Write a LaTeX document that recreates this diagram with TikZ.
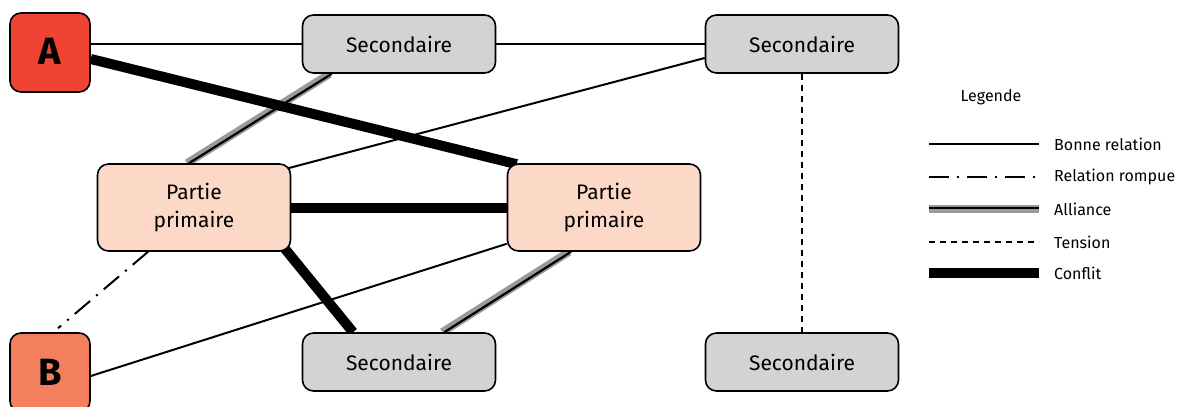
\documentclass[tikz,border=0pt]{standalone}
\usepackage{fontspec}
\setmainfont{Fira Sans}
\usetikzlibrary{calc}
\pgfdeclarelayer{background}
\pgfsetlayers{background,main}
\definecolor{partyA}{HTML}{EF4433}
\definecolor{partyB}{HTML}{F47F5F}
\definecolor{primfill}{HTML}{FCD8C6}
\definecolor{secfill}{HTML}{D1D3D4}
\definecolor{allygray}{HTML}{9A9A9A}
\tikzset{
  box/.style={draw=black, line width=1.6pt, rounded corners=11pt, inner sep=0pt, align=center,
    font=\fontsize{21}{28}\selectfont},
  partybox/.style={box, minimum width=80pt, minimum height=79pt, font=\fontsize{38}{38}\selectfont\bfseries},
  secbox/.style={box, fill=secfill, minimum width=193pt, minimum height=58pt},
  primbox/.style={box, fill=primfill, minimum width=193pt, minimum height=87pt},
  goodline/.style={line width=2pt},
  brokenline/.style={line width=2pt, dash pattern=on 20pt off 8pt on 2pt off 8pt},
  tensionline/.style={line width=2pt, dash pattern=on 6pt off 5pt},
  conflictline/.style={line width=10pt},
  allygrey/.style={line width=8pt, allygray},
  allyline/.style={line width=2.2pt},
  legtext/.style={anchor=west, font=\fontsize{16}{18}\selectfont, inner sep=0pt},
}
\newcommand{\allyedge}[2]{%
  \draw[allygrey] ($#1+(-2,0)$) -- ($#2+(-2,0)$);
  \draw[allyline] #1 -- #2;}
\begin{document}
\begin{tikzpicture}[x=1pt, y=-1pt]
\useasboundingbox (0,0) rectangle (1184,407);

% parties
\node[partybox, fill=partyA] (A) at (50,52.5) {\raisebox{2pt}{A}};
\node[partybox, fill=partyB] (B) at (50,372.5) {B};
\node[secbox] (secTL) at (399,44) {Secondaire};
\node[secbox] (secTR) at (802,44) {Secondaire};
\node[primbox] (ppL) at (194,207.5) {Partie\\primaire};
\node[primbox] (ppR) at (604,207.5) {Partie\\primaire};
\node[secbox] (secB) at (399,362) {Secondaire};
\node[secbox] (secBR) at (802,362) {Secondaire};

% relations
\begin{pgfonlayer}{background}
  \draw[goodline] (A.east |- secTL.west) -- (secTL.west);
  \draw[goodline] (secTL.east) -- (secTR.west);
  \draw[goodline] ($(secTR.west)+(0,14)$) -- ($(ppL.north east)+(-3,5)$);
  \draw[goodline] ($(ppR.south west)+(0,-8)$) -- ($(B.east)+(0,3.5)$);
  \draw[tensionline] (secTR.south) -- (secBR.north);
  \draw[brokenline] ($(ppL.south)+(-46,0)$) -- ($(B.north)+(8,-4)$);
  \allyedge{($(secTL.south west)+(30,0)$)}{($(ppL.north)+(-5,0)$)}
  \allyedge{($(ppR.south)+(-33,0)$)}{($(secB.north east)+(-52,0)$)}
  \draw[conflictline] ($(A.east)+(0,6.5)$) -- ($(ppR.north west)+(10,1)$);
  \draw[conflictline] (ppL.east) -- (ppR.west);
  \draw[conflictline] ($(ppL.south east)+(-8,-5)$) -- ($(secB.north)+(-46,0)$);
\end{pgfonlayer}

% legend
\node[font=\fontsize{16}{18}\selectfont] (legtitle) at (991,97) {Legende};
\foreach \y/\lab [count=\i] in {144/Bonne relation, 177/Relation rompue,
    209/Alliance, 242/Tension, 273/Conflit} {
  \coordinate (ls\i) at (929,\y);
  \coordinate (le\i) at (1039,\y);
  \node[legtext] (lt\i) at (1054,\y) {\lab};
}
\draw[goodline] (ls1) -- (le1);
\draw[brokenline] (ls2) -- (le2);
\draw[allygrey] (ls3) -- (le3);
\draw[allyline] ($(ls3)+(0,-1)$) -- ($(le3)+(0,-1)$);
\draw[tensionline] (ls4) -- (le4);
\draw[conflictline] (ls5) -- (le5);
\end{tikzpicture}
\end{document}
